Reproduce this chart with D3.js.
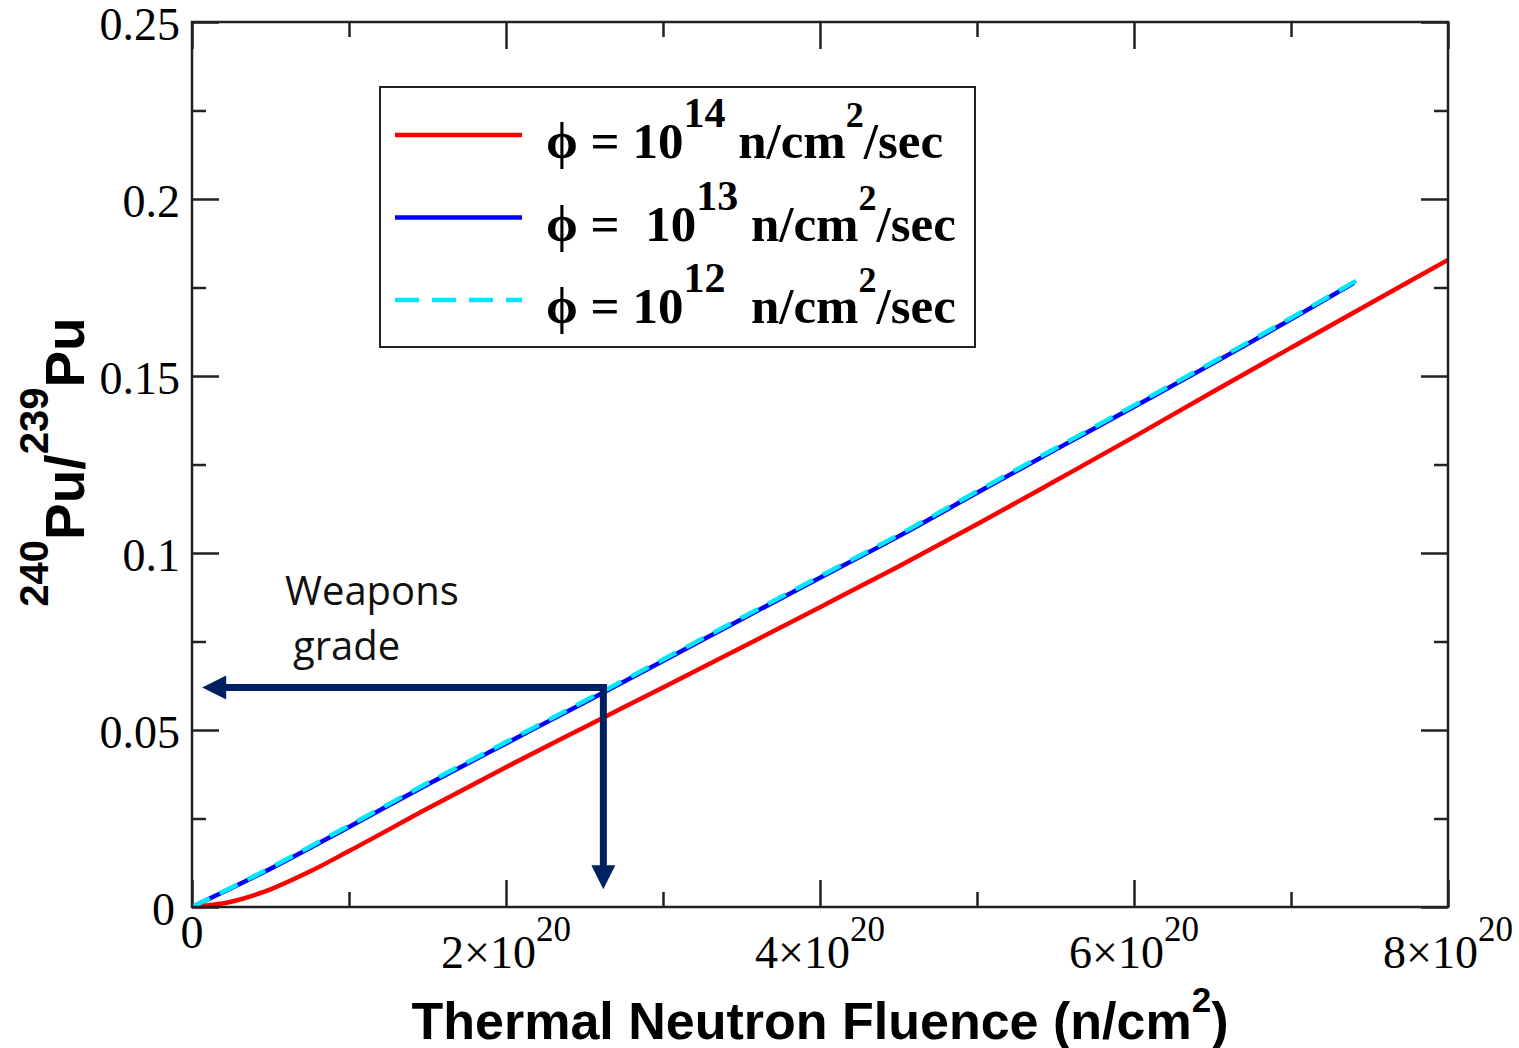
<!DOCTYPE html>
<html>
<head>
<meta charset="utf-8">
<script src="https://cdn.jsdelivr.net/npm/d3@7"></script>
<style>
body { margin: 0; background: #fff; }
</style>
</head>
<body>
<script>
// fluence in units of 1e20 n/cm^2, ratio = 240Pu/239Pu
var fluence14 = [0, 0.25, 0.5, 0.75, 1, 1.5, 2, 2.5, 3, 3.5, 4, 4.5, 5, 5.5, 6, 6.5, 7, 7.5, 8];
var ratio14 = [0, 0.0015, 0.0050, 0.0100, 0.0158, 0.0278, 0.0395, 0.0508, 0.0620, 0.0733, 0.0847, 0.0962, 0.1081, 0.1204, 0.1328, 0.1455, 0.1580, 0.1704, 0.1828];

var fluence13 = [0, 0.5, 1, 1.5, 2, 2.5, 3, 3.5, 4, 4.5, 5, 5.5, 6, 6.5, 7, 7.4];
var ratio13 = [0, 0.0108, 0.0226, 0.0346, 0.0462, 0.0578, 0.0695, 0.0813, 0.0930, 0.1047, 0.1170, 0.1292, 0.1413, 0.1535, 0.1660, 0.1763];

var fluence12 = [0, 0.5, 1, 1.5, 2, 2.5, 3, 3.5, 4, 4.5, 5, 5.5, 6, 6.5, 7, 7.42];
var ratio12 = [0, 0.0111, 0.0230, 0.0350, 0.0466, 0.0582, 0.0699, 0.0817, 0.0934, 0.1051, 0.1174, 0.1296, 0.1417, 0.1539, 0.1664, 0.1770];

var legendExponents = ["14", "13", "12"];
var legendColors = ["#ff0000", "#0000ff", "#00e8ff"];

var xMajor = [0, 2, 4, 6, 8];
var xMinor = [1, 3, 5, 7];
var yMajor = [0, 0.05, 0.1, 0.15, 0.2, 0.25];
var yMinor = [0.025, 0.075, 0.125, 0.175, 0.225];
var yLabels = ["0", "0.05", "0.1", "0.15", "0.2", "0.25"];

// weapons grade annotation
var weaponsRatio = 0.062;
var weaponsFluence = 2.62;

var W = 1519, H = 1048;
var margin = {top: 22, right: 71, bottom: 141, left: 192};
var width = W - margin.left - margin.right;
var height = H - margin.top - margin.bottom;

var root = d3.select("body").append("svg")
    .attr("width", W)
    .attr("height", H)
    .style("background", "#fff");

var svg = root.append("g")
    .attr("transform", "translate(" + margin.left + "," + margin.top + ")");

var x = d3.scaleLinear().domain([0, 8]).range([0, width]);
var y = d3.scaleLinear().domain([0, 0.25]).range([height, 0]);

var serif = "'Liberation Serif', 'Times New Roman', serif";
var sans = "'Liberation Sans', Arial, sans-serif";

// ticks on all four sides, pointing inward
function styleAxis(g) {
    g.select(".domain").remove();
    g.selectAll(".tick line").attr("stroke", "#222").attr("stroke-width", 2.5);
    g.selectAll(".tick text").remove();
}
svg.append("g").attr("transform", "translate(0," + height + ")")
    .call(d3.axisBottom(x).tickValues(xMajor).tickSize(-27)).call(styleAxis);
svg.append("g").attr("transform", "translate(0," + height + ")")
    .call(d3.axisBottom(x).tickValues(xMinor).tickSize(-15)).call(styleAxis);
svg.append("g")
    .call(d3.axisTop(x).tickValues(xMajor).tickSize(-27)).call(styleAxis);
svg.append("g")
    .call(d3.axisTop(x).tickValues(xMinor).tickSize(-15)).call(styleAxis);
svg.append("g")
    .call(d3.axisLeft(y).tickValues(yMajor).tickSize(-27)).call(styleAxis);
svg.append("g")
    .call(d3.axisLeft(y).tickValues(yMinor).tickSize(-14)).call(styleAxis);
svg.append("g").attr("transform", "translate(" + width + ",0)")
    .call(d3.axisRight(y).tickValues(yMajor).tickSize(-27)).call(styleAxis);
svg.append("g").attr("transform", "translate(" + width + ",0)")
    .call(d3.axisRight(y).tickValues(yMinor).tickSize(-14)).call(styleAxis);

// y tick labels
svg.selectAll(".ylab")
    .data(yMajor)
    .enter().append("text")
    .attr("class", "ylab")
    .attr("x", function(d) { return d === 0 ? -17 : -12; })
    .attr("y", function(d) { return y(d) + 2; })
    .attr("text-anchor", "end")
    .attr("dominant-baseline", "central")
    .style("font-family", serif)
    .style("font-size", "46px")
    .text(function(d, i) { return yLabels[i]; });

// x tick labels, n x 10^20
var xlab = svg.selectAll(".xlab")
    .data(xMajor)
    .enter().append("text")
    .attr("class", "xlab")
    .attr("x", function(d) { return x(d); })
    .attr("y", function(d) { return d === 0 ? height + 41 : height + 61; })
    .attr("text-anchor", "middle")
    .style("font-family", serif)
    .style("font-size", "46px");
xlab.each(function(d) {
    var t = d3.select(this);
    if (d === 0) { t.text("0"); return; }
    t.append("tspan").text(d + "\u00d710");
    t.append("tspan").attr("dy", -27).style("font-size", "35px").text("20");
});

// curves
var line = d3.line()
    .x(function(d) { return x(d[0]); })
    .y(function(d) { return y(d[1]); })
    .curve(d3.curveMonotoneX);

svg.append("path")
    .datum(d3.zip(fluence14, ratio14))
    .attr("d", line)
    .attr("fill", "none")
    .attr("stroke", legendColors[0])
    .attr("stroke-width", 4.5);
svg.append("path")
    .datum(d3.zip(fluence13, ratio13))
    .attr("d", line)
    .attr("fill", "none")
    .attr("stroke", legendColors[1])
    .attr("stroke-width", 4.5);
svg.append("path")
    .datum(d3.zip(fluence12, ratio12))
    .attr("d", line)
    .attr("fill", "none")
    .attr("stroke", legendColors[2])
    .attr("stroke-width", 4.5)
    .attr("stroke-dasharray", "20,11");

// frame
svg.append("rect")
    .attr("width", width)
    .attr("height", height)
    .attr("fill", "none")
    .attr("stroke", "#222")
    .attr("stroke-width", 2.5);

// weapons grade arrows
var navy = "#002060";
var cx = x(weaponsFluence), cy = y(weaponsRatio);
var leftTip = x(0.065), downTip = y(0.005);
svg.append("line")
    .attr("x1", cx + 3.5).attr("y1", cy)
    .attr("x2", leftTip + 20).attr("y2", cy)
    .attr("stroke", navy).attr("stroke-width", 7);
svg.append("path")
    .attr("d", "M" + leftTip + "," + cy + "L" + (leftTip + 24) + "," + (cy - 12) + "L" + (leftTip + 24) + "," + (cy + 12) + "Z")
    .attr("fill", navy);
svg.append("line")
    .attr("x1", cx).attr("y1", cy - 3.5)
    .attr("x2", cx).attr("y2", downTip - 20)
    .attr("stroke", navy).attr("stroke-width", 7);
svg.append("path")
    .attr("d", "M" + cx + "," + downTip + "L" + (cx - 12) + "," + (downTip - 24) + "L" + (cx + 12) + "," + (downTip - 24) + "Z")
    .attr("fill", navy);

var note = svg.append("text")
    .style("font-family", "'Open Sans', 'Noto Sans', sans-serif")
    .style("font-size", "40px")
    .attr("fill", "#111");
note.append("tspan").attr("x", 93).attr("y", 583).text("Weapons");
note.append("tspan").attr("x", 101).attr("y", 638).text("grade");

// legend
var legend = svg.append("g").attr("transform", "translate(188,65)");
legend.append("rect")
    .attr("width", 595)
    .attr("height", 260)
    .attr("fill", "#fff")
    .attr("stroke", "#222")
    .attr("stroke-width", 2);

var rows = legend.selectAll(".row")
    .data(legendExponents)
    .enter().append("g")
    .attr("class", "row")
    .attr("transform", function(d, i) { return "translate(0," + (48 + i * 82.5) + ")"; });

rows.append("line")
    .attr("x1", 15).attr("x2", 142)
    .attr("y1", 0).attr("y2", 0)
    .attr("stroke", function(d, i) { return legendColors[i]; })
    .attr("stroke-width", 4.5)
    .attr("stroke-dasharray", function(d, i) { return i === 2 ? "24,13" : null; });

rows.each(function(d, i) {
    var t = d3.select(this).append("text")
        .attr("x", 166)
        .attr("y", 23)
        .attr("xml:space", "preserve")
        .style("white-space", "pre")
        .style("font-family", serif)
        .style("font-weight", "bold")
        .style("font-size", "51px");
    t.append("tspan").text(i === 1 ? "\u03d5 =  10" : "\u03d5 = 10");
    t.append("tspan").attr("dy", -31).style("font-size", "42px").text(d);
    t.append("tspan").attr("dy", 31).text(i === 2 ? "  n/cm" : " n/cm");
    t.append("tspan").attr("dy", -31).style("font-size", "36px").text("2");
    t.append("tspan").attr("dy", 31).text("/sec");
});

// axis titles
var xt = svg.append("text")
    .attr("x", width / 2)
    .attr("y", height + 132)
    .attr("text-anchor", "middle")
    .style("font-family", sans)
    .style("font-weight", "bold")
    .style("font-size", "52px");
xt.append("tspan").text("Thermal Neutron Fluence (n/cm");
xt.append("tspan").attr("dy", -27).style("font-size", "35px").text("2");
xt.append("tspan").attr("dy", 27).text(")");

var yt = svg.append("text")
    .attr("transform", "translate(" + (84 - margin.left) + "," + (462 - margin.top) + ") rotate(-90)")
    .attr("text-anchor", "middle")
    .style("font-family", sans)
    .style("font-weight", "bold")
    .style("font-size", "55px");
yt.append("tspan").attr("dy", -36).style("font-size", "40px").text("240");
yt.append("tspan").attr("dy", 36).text("Pu/");
yt.append("tspan").attr("dy", -36).style("font-size", "40px").text("239");
yt.append("tspan").attr("dy", 36).text("Pu");
</script>
</body>
</html>
